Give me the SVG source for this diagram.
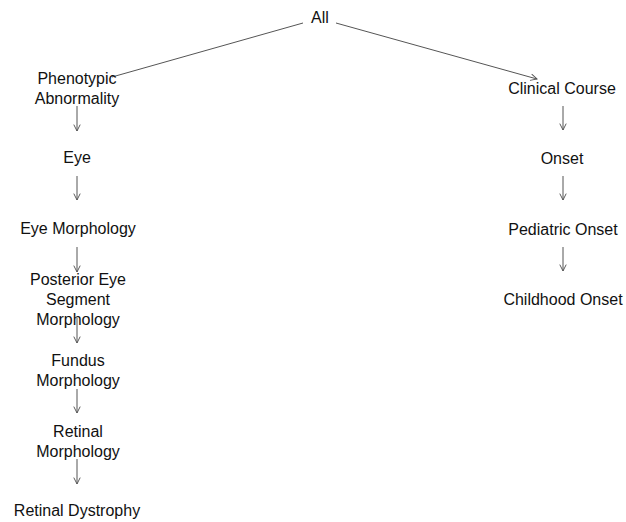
<svg xmlns="http://www.w3.org/2000/svg" width="626" height="522" viewBox="0 0 626 522">
  <style>
    .lbl { font-family: "Liberation Sans", Arial, sans-serif; font-size: 16px; fill: #111; text-anchor: middle; }
    .edge { stroke: #555; stroke-width: 1; fill: none; }
  </style>
  <defs>
    <marker id="arrow" viewBox="0 0 10 10" refX="9" refY="5" markerWidth="8" markerHeight="8" markerUnits="userSpaceOnUse" orient="auto">
      <path d="M1,1 L9,5 L1,9" fill="none" stroke="#555" stroke-width="1.2"/>
    </marker>
  </defs>
  <rect width="626" height="522" fill="#ffffff"/>

  <g id="connectors">
    <line class="edge" x1="303" y1="23" x2="112" y2="77"/>
    <line class="edge" x1="336" y1="23" x2="537" y2="79" marker-end="url(#arrow)"/>
    <!-- left column -->
    <line class="edge" x1="77" y1="106" x2="77" y2="131" marker-end="url(#arrow)"/>
    <line class="edge" x1="77" y1="176" x2="77" y2="200" marker-end="url(#arrow)"/>
    <line class="edge" x1="77" y1="247" x2="77" y2="272" marker-end="url(#arrow)"/>
    <line class="edge" x1="77" y1="318" x2="77" y2="343" marker-end="url(#arrow)"/>
    <line class="edge" x1="77" y1="389" x2="77" y2="413" marker-end="url(#arrow)"/>
    <line class="edge" x1="77" y1="459" x2="77" y2="484" marker-end="url(#arrow)"/>
    <!-- right column -->
    <line class="edge" x1="563" y1="106" x2="563" y2="130" marker-end="url(#arrow)"/>
    <line class="edge" x1="563" y1="176" x2="563" y2="200" marker-end="url(#arrow)"/>
    <line class="edge" x1="563" y1="247" x2="563" y2="271" marker-end="url(#arrow)"/>
  </g>

  <g id="all"><text class="lbl" x="320" y="23">All</text></g>

  <g id="phenotypic-abnormality">
    <text class="lbl" x="77" y="84">Phenotypic</text>
    <text class="lbl" x="77" y="104">Abnormality</text>
  </g>
  <g id="eye"><text class="lbl" x="77" y="163">Eye</text></g>
  <g id="eye-morphology"><text class="lbl" x="78" y="234">Eye Morphology</text></g>
  <g id="posterior-eye-segment-morphology">
    <text class="lbl" x="78" y="285">Posterior Eye</text>
    <text class="lbl" x="78" y="305">Segment</text>
    <text class="lbl" x="78" y="325">Morphology</text>
  </g>
  <g id="fundus-morphology">
    <text class="lbl" x="78" y="366">Fundus</text>
    <text class="lbl" x="78" y="386">Morphology</text>
  </g>
  <g id="retinal-morphology">
    <text class="lbl" x="78" y="437">Retinal</text>
    <text class="lbl" x="78" y="457">Morphology</text>
  </g>
  <g id="retinal-dystrophy"><text class="lbl" x="77" y="516">Retinal Dystrophy</text></g>

  <g id="clinical-course"><text class="lbl" x="562" y="94">Clinical Course</text></g>
  <g id="onset"><text class="lbl" x="562" y="164">Onset</text></g>
  <g id="pediatric-onset"><text class="lbl" x="563" y="235">Pediatric Onset</text></g>
  <g id="childhood-onset"><text class="lbl" x="563" y="305">Childhood Onset</text></g>
</svg>
